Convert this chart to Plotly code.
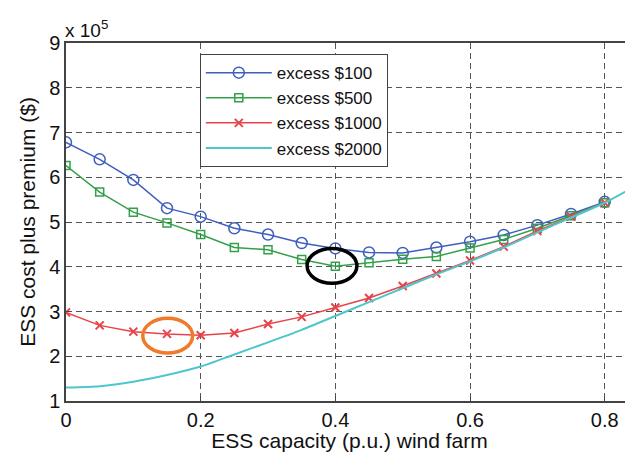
import plotly.graph_objects as go

x_pts = [0, 0.05, 0.1, 0.15, 0.2, 0.25, 0.3, 0.35, 0.4, 0.45, 0.5, 0.55, 0.6, 0.65, 0.7, 0.75, 0.8]
excess_100 = [6.78, 6.40, 5.94, 5.31, 5.12, 4.86, 4.72, 4.53, 4.41, 4.32, 4.31, 4.43, 4.56, 4.71, 4.93, 5.18, 5.45]
excess_500 = [6.26, 5.67, 5.22, 4.98, 4.72, 4.43, 4.38, 4.16, 4.01, 4.09, 4.17, 4.23, 4.42, 4.61, 4.86, 5.14, 5.43]
excess_1000 = [2.98, 2.69, 2.55, 2.50, 2.47, 2.52, 2.72, 2.88, 3.09, 3.30, 3.57, 3.85, 4.14, 4.45, 4.80, 5.12, 5.43]
x_2000 = [0, 0.05, 0.1, 0.15, 0.2, 0.25, 0.3, 0.35, 0.4, 0.45, 0.5, 0.55, 0.6, 0.65, 0.7, 0.75, 0.8, 0.85]
excess_2000 = [1.30, 1.33, 1.43, 1.58, 1.77, 2.04, 2.31, 2.59, 2.90, 3.21, 3.52, 3.83, 4.12, 4.43, 4.77, 5.10, 5.43, 5.84]

x_ticks = [0, 0.2, 0.4, 0.6, 0.8]
y_ticks = [1, 2, 3, 4, 5, 6, 7, 8, 9]

fig = go.Figure()
fig.add_trace(go.Scatter(x=x_pts, y=excess_100, name="excess $100", mode="lines+markers",
                         line=dict(color="#3f5fbf", width=1.5),
                         marker=dict(symbol="circle-open", size=11, color="#3f5fbf", line=dict(width=1.5))))
fig.add_trace(go.Scatter(x=x_pts, y=excess_500, name="excess $500", mode="lines+markers",
                         line=dict(color="#33a04a", width=1.5),
                         marker=dict(symbol="square-open", size=8, color="#33a04a", line=dict(width=1.5))))
fig.add_trace(go.Scatter(x=x_pts, y=excess_1000, name="excess $1000", mode="lines+markers",
                         line=dict(color="#e8434a", width=1.5),
                         marker=dict(symbol="x-thin-open", size=8, color="#e8434a", line=dict(width=2))))
fig.add_trace(go.Scatter(x=x_2000, y=excess_2000, name="excess $2000", mode="lines",
                         line=dict(color="#4ec6cc", width=2, shape="spline", smoothing=0.6)))

# highlight ellipses
fig.add_shape(type="circle", xref="x", yref="y", x0=0.358, x1=0.432, y0=3.63, y1=4.41,
              line=dict(color="black", width=3.5))
fig.add_shape(type="circle", xref="x", yref="y", x0=0.114, x1=0.188, y0=2.07, y1=2.85,
              line=dict(color="#f07a2a", width=3.5))

fig.add_annotation(xref="paper", yref="paper", x=0, y=1, xanchor="left", yanchor="bottom",
                   text="x 10<sup>5</sup>", showarrow=False, font=dict(size=19, color="#111"),
                   yshift=0, xshift=-3)

axis_common = dict(showline=True, linecolor="#444", linewidth=1.5, ticks="inside", ticklen=5,
                   tickcolor="#444", showgrid=True, gridcolor="#555", griddash="6px,4px",
                   gridwidth=1, zeroline=False, tickfont=dict(size=20, color="#111"),
                   automargin=False)

fig.update_xaxes(range=[0, 0.842], tickvals=x_ticks, ticktext=["0", "0.2", "0.4", "0.6", "0.8"],
                 mirror=True, title=dict(text="ESS capacity (p.u.) wind farm", font=dict(size=21, color="#111"), standoff=9),
                 **axis_common)
fig.update_yaxes(range=[1, 9], tickvals=y_ticks, mirror=False,
                 title=dict(text="ESS cost plus premium ($)", font=dict(size=21, color="#111"), standoff=8),
                 **axis_common)

# the page body has an 8px margin, so the figure is sized to fit the 633x452 window
fig.update_layout(
    width=625, height=444,
    margin=dict(l=58, r=0, t=35, b=51, autoexpand=False),
    paper_bgcolor="white", plot_bgcolor="white",
    font=dict(family="Liberation Sans, Arial, sans-serif", color="#111"),
    legend=dict(x=0.236, y=0.969, xanchor="left", yanchor="top", bgcolor="white",
                bordercolor="#444", borderwidth=1, font=dict(size=17, color="#111"),
                tracegroupgap=0, itemwidth=66),
    showlegend=True,
)

fig.write_html("out.html")
